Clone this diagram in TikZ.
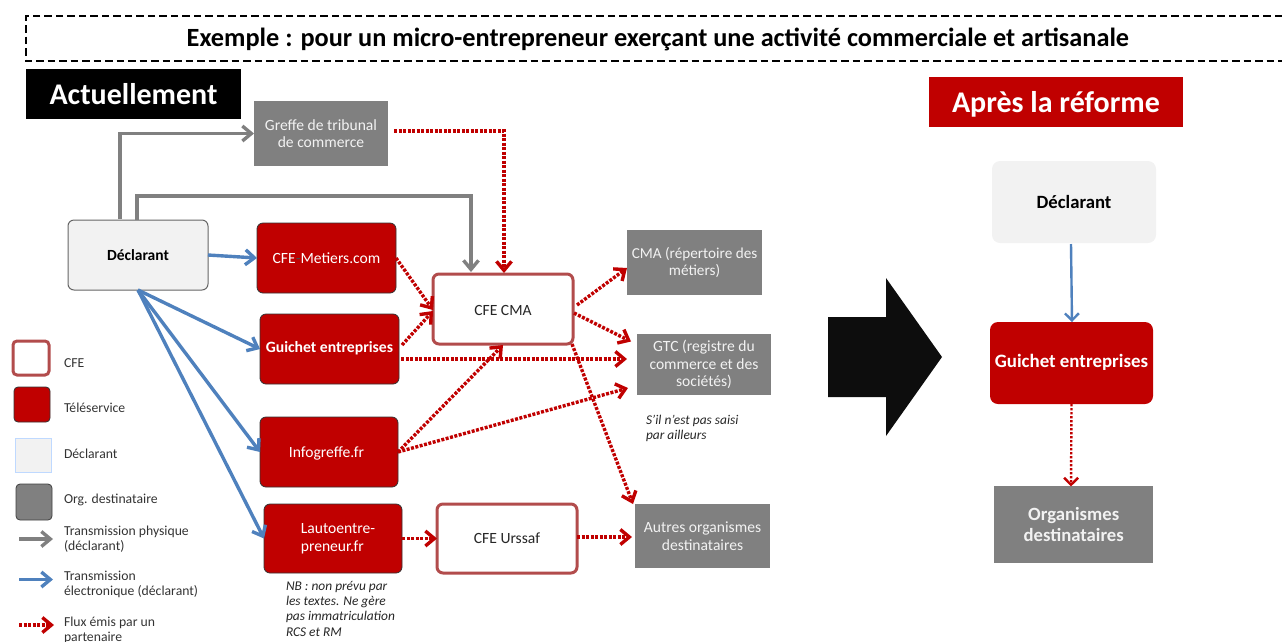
\documentclass[tikz,border=0pt]{standalone}
\usepackage{fontspec}
\setmainfont{Carlito}
\usetikzlibrary{arrows.meta,calc}
\definecolor{rougeF}{HTML}{C00000}
\definecolor{grisO}{HTML}{808080}
\definecolor{bleuT}{HTML}{4F81BD}
\definecolor{bordCFE}{HTML}{B24C4C}
\definecolor{fondD}{HTML}{F2F2F2}
\definecolor{noirF}{HTML}{0D0D0D}
\newcommand{\fs}[2]{\fontsize{#1}{#2}\selectfont}
\newcommand{\decale}[2]{\raisebox{#1}[\height][\depth]{#2}}
\tikzset{
  base/.style={inner sep=0pt,outer sep=0pt,align=center,font=\fs{15.6}{17.5}},
  sized/.style 2 args={minimum width=#1pt,minimum height=#2pt},
  tele/.style={base,fill=rougeF,draw=black!80,line width=0.8pt,rounded corners=6pt,text=white},
  cfe/.style={base,fill=white,draw=bordCFE,line width=3pt,rounded corners=6pt,text=black!85},
  org/.style={base,fill=grisO,text=fondD},
  decl/.style={base,fill=fondD,draw=black!60,line width=1pt,rounded corners=6pt},
  lgd/.style={inner sep=0pt,outer sep=0pt,anchor=west,align=left,font=\fs{13.7}{15.5},text=black!80},
  note/.style={inner sep=0pt,outer sep=0pt,anchor=north west,align=left,font=\fs{13.4}{15.4}\itshape,text=black!85},
  phys/.style={draw=grisO,line width=3.4pt,-{Straight Barb[length=9pt,width=15pt]}},
  elec/.style={draw=bleuT,line width=3.4pt,-{Straight Barb[length=9pt,width=15pt]}},
  flux/.style={draw=rougeF,line width=3.4pt,dash pattern=on 3pt off 1.5pt,-{Straight Barb[length=9pt,width=15pt]}},
}
\begin{document}
\begin{tikzpicture}[x=1pt,y=-1pt]
\useasboundingbox (0,0) rectangle (1282,641);
% title band
\draw[black,line width=1.3pt,dash pattern=on 7.5pt off 4pt] (1282,16) -- (26,16) -- (26,61) -- (1282,61);
\node[base,font=\fs{26.3}{30}\bfseries] (titre) at (658,39.5) {Exemple : pour un micro-entrepreneur exer\c{c}ant une activit\'e commerciale et artisanale};
\node[base,fill=black,text=white,sized={215}{50},font=\fs{30}{36}\bfseries] (actu) at (133.5,94) {Actuellement};
\node[base,fill=rougeF,text=white,sized={254}{50},font=\fs{30}{36}\bfseries] (apres) at (1056,101.5) {\decale{-2.5pt}{Apr\`es la r\'eforme}};
% left diagram
\node[org,sized={134}{65}] (greffe) at (321,133.5) {Greffe de tribunal\\de commerce};
\node[decl,sized={140}{70},font=\fs{15.5}{17.5}\bfseries] (dec) at (138,255) {D\'eclarant};
\node[tele,sized={139}{70}] (metiers) at (326.5,258) {CFE{\color{black!70}-}Metiers.com};
\node[tele,sized={139}{70},font=\fs{15.7}{17.5}\bfseries] (guichet) at (329.5,349) {\decale{1pt}{Guichet entreprises}};
\node[tele,sized={138}{70}] (info) at (329,452) {\decale{-1pt}{Infogreffe.fr}\hspace*{5pt}};
\node[tele,sized={138}{69}] (lauto) at (333,538.5) {\hspace*{10pt}\begin{tabular}{@{}l@{}}Lautoentre-\\[0.5pt]preneur.fr\end{tabular}};
\node[cfe,sized={140}{70}] (cma) at (503,309) {\decale{-1pt}{CFE CMA}};
\node[cfe,sized={140}{69}] (urssaf) at (507,538.5) {CFE Urssaf};
\node[org,sized={135}{65},font=\fs{15.2}{17.5}] (cmar) at (694.5,262.5) {CMA (r\'epertoire des\\m\'etiers)};
\node[org,sized={134}{61}] (gtc) at (704,364.5) {GTC (registre du\\commerce et des\\soci\'et\'es)};
\node[org,sized={135}{64}] (autres) at (702.5,536) {Autres organismes\\destinataires};
\node[note] (nsaisi) at (646,415) {S'il n'est pas saisi\\par ailleurs};
\node[note] (nb) at (286,581) {NB : non pr\'evu par\\les textes. Ne g\`ere\\pas immatriculation\\RCS et RM};
% right diagram
\fill[noirF] (828,317) -- (886,317) -- (886,278) -- (942,357) -- (886,436) -- (886,397) -- (828,397) -- cycle;
\node[base,fill=fondD,rounded corners=8pt,sized={164}{82},font=\fs{18.7}{22}\bfseries] (dec2) at (1074,202) {D\'eclarant};
\node[base,fill=rougeF,text=white,rounded corners=8pt,sized={163}{82},font=\fs{18.9}{22}\bfseries] (guichet2) at (1071.5,363) {\decale{1pt}{Guichet entreprises}};
\node[org,sized={159.5}{76.5},font=\fs{18.7}{21}\bfseries] (orgs) at (1073.7,524.7) {Organismes\\destinataires};
% legend
\node[base,fill=white,draw=bordCFE,line width=3pt,rounded corners=4pt,sized={36}{34}] (lcfe) at (31,358) {};
\node[base,fill=rougeF,draw=black!80,line width=0.8pt,rounded corners=4pt,sized={36}{35}] (ltele) at (32,404.5) {};
\node[base,fill=fondD,draw=blue!60!cyan!25,line width=0.8pt,sized={36}{34}] (ldec) at (33,455) {};
\node[base,fill=grisO,draw=black!75,line width=0.8pt,rounded corners=4pt,sized={36}{36}] (lorg) at (34,502) {};
\node[lgd] (tcfe) at (64,363) {CFE};
\node[lgd] (ttele) at (64,408) {T\'el\'eservice};
\node[lgd] (tdec) at (64,454) {D\'eclarant};
\node[lgd] (torg) at (64,500) {Org. destinataire};
\node[lgd] (tphys) at (64,539) {Transmission physique\\(d\'eclarant)};
\node[lgd] (telec) at (64,584.5) {Transmission\\\'electronique (d\'eclarant)};
\node[lgd] (tflux) at (64,630.5) {Flux \'emis par un\\partenaire};
\coordinate (pa) at (19,539); \coordinate (pb) at (53,539);
\coordinate (ea) at (19,579.5); \coordinate (eb) at (53,579.5);
\coordinate (fa) at (19,625); \coordinate (fb) at (54,625);
\draw[phys] (pa) -- (pb);
\draw[elec] (ea) -- (eb);
\draw[flux] (fa) -- (fb);
% grey connectors
\draw[phys] ([xshift=-18pt,yshift=1pt]dec.north) |- (greffe.west);
\coordinate (coude) at (471,196);
\draw[phys] ([xshift=-1pt]dec.north) |- (coude) -- ([xshift=-32pt,yshift=2pt]cma.north);
% blue connectors
\draw[elec] (dec.east) -- (metiers.west);
\draw[elec] (dec.south) -- (guichet.west);
\draw[elec] (dec.south) -- (info.west);
\draw[elec] (dec.south) -- (lauto.west);
\draw[draw=bleuT,line width=2.4pt,-{Straight Barb[length=7pt,width=14pt]}] ([xshift=-3pt,yshift=-1pt]dec2.south) -- ([xshift=0.5pt]guichet2.north);
% red connectors
\coordinate (gcoude) at (504,131);
\draw[flux] ([xshift=6pt,yshift=2.5pt]greffe.east) -- (gcoude) -- ([xshift=1pt,yshift=1pt]cma.north);
\draw[flux] (metiers.east) -- ([yshift=-1pt]cma.west);
\draw[flux] ([xshift=3pt,yshift=4pt]guichet.east) -- ([yshift=-2pt]cma.west);
\draw[flux] ([xshift=2pt,yshift=-10pt]guichet.east) -- ([xshift=-10pt,yshift=5.5pt]gtc.west);
\draw[flux] (info.east) -- ([yshift=-1pt]cma.south);
\draw[flux] (info.east) -- ([xshift=-9pt,yshift=-23.5pt]gtc.west);
\draw[flux] ([xshift=4pt,yshift=4pt]cma.east) -- ([yshift=-5.5pt]cmar.west);
\draw[flux] ([xshift=1pt,yshift=-4pt]cma.east) -- ([xshift=-6pt,yshift=23pt]gtc.west);
\draw[flux] ([xshift=-1pt]cma.south east) -- ([xshift=-2pt]autres.north west);
\draw[flux] (lauto.east) -- (urssaf.west);
\draw[flux] ([yshift=1.5pt]urssaf.east) -- ([xshift=-3pt,yshift=-1pt]autres.west);
\draw[draw=rougeF,line width=2.4pt,dash pattern=on 2.4pt off 1.6pt,-{Straight Barb[length=7pt,width=14pt]}] (guichet2.south) -- ([xshift=-2.7pt]orgs.north);
\end{tikzpicture}
\end{document}
